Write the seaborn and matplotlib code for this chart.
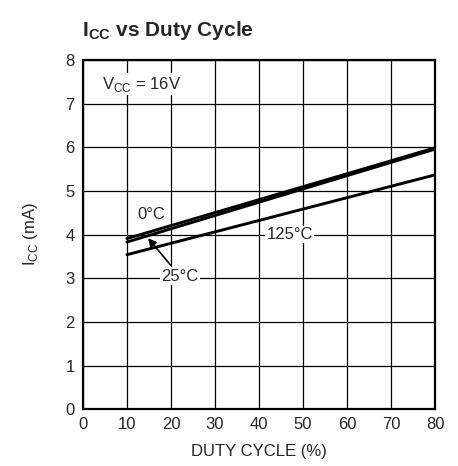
import numpy as np
import pandas as pd
import seaborn as sns
import matplotlib.pyplot as plt

# curve end points
duty = [10, 80]
icc_0c = [3.91, 5.99]
icc_25c = [3.83, 5.96]
icc_125c = [3.54, 5.37]

x_ticks = [0, 10, 20, 30, 40, 50, 60, 70, 80]
y_ticks = [0, 1, 2, 3, 4, 5, 6, 7, 8]

df = pd.DataFrame({
    'duty': duty * 3,
    'icc': icc_0c + icc_25c + icc_125c,
    'temp': ['0°C'] * 2 + ['25°C'] * 2 + ['125°C'] * 2,
})

sns.set_style('white')
plt.rcParams['font.family'] = ['Liberation Sans', 'DejaVu Sans']

fig = plt.figure(figsize=(4.58, 4.66), dpi=100)
ax = fig.add_axes([0.181, 0.122, 0.769, 0.749])

sns.lineplot(data=df, x='duty', y='icc', units='temp', estimator=None,
             color='black', linewidth=2.1, legend=False, ax=ax)

ax.set_xlim(0, 80)
ax.set_ylim(0, 8)
ax.set_xticks(x_ticks)
ax.set_yticks(y_ticks)
ax.grid(True, color='black', linewidth=0.9)
ax.tick_params(axis='both', length=0, labelsize=12, pad=6)
for s in ax.spines.values():
    s.set_color('black')
    s.set_linewidth(1.6)

ax.set_xlabel('DUTY CYCLE (%)', fontsize=12, labelpad=8)
ax.set_ylabel('I$_{\\mathregular{CC}}$ (mA)', fontsize=12, labelpad=18)

fig.text(0.179, 0.935, 'I$_{\\mathregular{CC}}$ vs Duty Cycle', fontsize=15,
         fontweight='bold', ha='left', va='center')

bg = dict(facecolor='white', edgecolor='none', pad=1)
ax.text(4.3, 7.45, 'V$_{\\mathregular{CC}}$ = 16V', fontsize=12, ha='left', va='center', bbox=bg)
ax.text(15.6, 4.45, '0°C', fontsize=12, ha='center', va='center')
ax.text(47.0, 4.0, '125°C', fontsize=12, ha='center', va='center', bbox=bg)
ax.annotate('25°C', xy=(14.8, 3.92), xytext=(22.0, 3.05), fontsize=12,
            ha='center', va='center', bbox=bg,
            arrowprops=dict(arrowstyle='-|>', color='black', lw=1.2,
                            shrinkA=2, shrinkB=0, mutation_scale=12))

fig.savefig('out.png', dpi=100)
